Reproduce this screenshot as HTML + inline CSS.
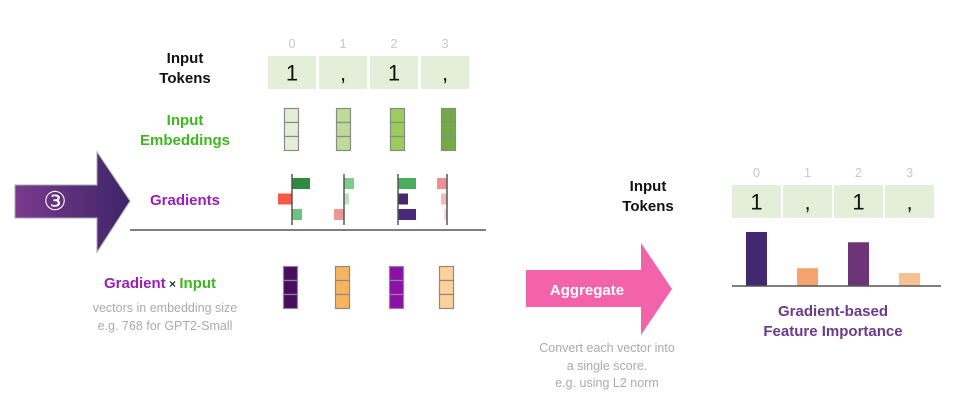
<!DOCTYPE html>
<html><head><meta charset="utf-8"><style>
html,body{margin:0;padding:0;background:#fff;}
svg{display:block;font-family:"Liberation Sans",Arial,sans-serif;}
</style></head><body>
<svg width="961" height="412" viewBox="0 0 961 412">
<defs>
<linearGradient id="pg" x1="0" x2="1" y1="0" y2="0"><stop offset="0" stop-color="#7a3a8e"/><stop offset="1" stop-color="#3e2468"/></linearGradient>
</defs>
<g>
<polygon points="15,185 97,185 97,152 130,201 97,252 97,218 15,218" fill="url(#pg)" stroke="#aaa" stroke-width="1"/>
<text x="55" y="210" font-size="26" fill="#fff" text-anchor="middle">③</text>
</g>
<g font-weight="bold" font-size="15" text-anchor="middle" fill="#111">
<text x="185" y="63">Input</text><text x="185" y="83">Tokens</text></g>
<g id="tok1"></g>
<g font-weight="bold" font-size="15" text-anchor="middle" fill="#3cb81e">
<text x="185" y="125">Input</text><text x="185" y="145">Embeddings</text></g>
<g id="emb"></g>
<text x="185" y="205" font-weight="bold" font-size="15" text-anchor="middle" fill="#9a1fb5">Gradients</text>
<g id="grad"></g>
<line x1="130" y1="230" x2="486" y2="230" stroke="#555" stroke-width="1.5"/>
<text x="160" y="288" font-weight="bold" font-size="15" text-anchor="middle"><tspan fill="#9a1fb5">Gradient</tspan><tspan fill="#333" font-size="12"> × </tspan><tspan fill="#3cb81e">Input</tspan></text>
<g font-size="12.5" text-anchor="middle" fill="#aaa">
<text x="165" y="312">vectors in embedding size</text><text x="165" y="330">e.g. 768 for GPT2-Small</text></g>
<g id="gxi"></g>
<g>
<polygon points="526,270 641,270 641,243 672,289 641,335 641,307 526,307" fill="#f263ac"/>
<text x="587" y="295" font-weight="bold" font-size="15" fill="#fff" text-anchor="middle">Aggregate</text></g>
<g font-size="12.5" text-anchor="middle" fill="#aaa">
<text x="607" y="352">Convert each vector into</text><text x="607" y="370">a single score.</text><text x="607" y="387">e.g. using L2 norm</text></g>
<g font-weight="bold" font-size="15" text-anchor="middle" fill="#111">
<text x="648" y="191">Input</text><text x="648" y="211">Tokens</text></g>
<g id="tok2"></g>
<g id="imp"></g>
<line x1="732" y1="286" x2="941" y2="286" stroke="#555" stroke-width="1.5"/>
<g font-weight="bold" font-size="15" text-anchor="middle" fill="#6b3a8a">
<text x="833" y="316">Gradient-based</text><text x="833" y="336">Feature Importance</text></g>
</svg>
<script>
const tokens=["1",",","1",","];
const indices=["0","1","2","3"];
const importance=[1.0,0.33,0.81,0.24];
const impColors=["#42286e","#f4a56f","#6e3478","#f6c193"];
const embColors=["#e2efd6","#bcdc98","#9acd5a","#72ab45"];
const gxiColors=["#4a0c5e","#f9b55e","#8b0fa8","#fdd29a"];
const grad0=[0.9,-0.7,0.5];
const grad1=[0.5,0.25,-0.5];
const grad2=[0.9,0.5,0.9];
const grad3=[-0.5,-0.3,-0.15];
const gradColors=[["#2e8b3e","#f25a45","#6cc47c"],["#7ccd8c","#b4e3bd","#ee9595"],["#4cae5c","#47286e","#4a2a78"],["#ee9090","#f4b8b8","#f9d8d8"]];
const NS="http://www.w3.org/2000/svg";
function mk(p,t,a){const e=document.createElementNS(NS,t);for(const k in a)e.setAttribute(k,a[k]);p.appendChild(e);return e;}
function tokRow(g,x0,y0,w,h,step){
 tokens.forEach((t,i)=>{
  const r=mk(g,'rect',{x:x0+i*step,y:y0,width:w,height:h,fill:'#e3efd8'});
  
  
  const tx=mk(g,'text',{x:x0+i*step+w/2,y:y0+h/2+8,'font-size':22,'text-anchor':'middle',fill:'#111'});tx.textContent=t;
  
  
  const ix=mk(g,'text',{x:x0+i*step+w/2,y:y0-8,'font-size':13,'text-anchor':'middle',fill:'#c8c8c8'});ix.textContent=indices[i];
  
  
 });
}
tokRow(document.getElementById('tok1'),268,56,48,33,51);
tokRow(document.getElementById('tok2'),732,185,49,33,51);
function vecs(g,xs,y0,cols){
 xs.forEach((x,i)=>{for(let k=0;k<3;k++){
  const r=mk(g,'rect',{x:x,y:y0+k*14,width:14,height:14,fill:cols[i],stroke:'#8a8a8a','stroke-width':1.2});
  
  
 }});
}
vecs(document.getElementById('emb'),[284.5,336.5,390.5,441.5],108.5,embColors);
vecs(document.getElementById('gxi'),[283.5,335.5,389.5,439.5],266.5,gxiColors);
const gg=document.getElementById('grad');
const gradAll=[grad0,grad1,grad2,grad3];
const axX=[292,344,398,447];
const gScale=20;
gradAll.forEach((vals,i)=>{
 vals.forEach((v,k)=>{
  const w=Math.abs(v)*gScale;const x=v>=0?axX[i]:axX[i]-w;
  const r=mk(gg,'rect',{x:x,y:178+k*15.5,width:w,height:11,fill:gradColors[i][k]});
  
  
 });
 const l=mk(gg,'line',{x1:axX[i],y1:174,x2:axX[i],y2:225,stroke:'#555','stroke-width':1.5});
 
 
});
const ig=document.getElementById('imp');
const base=286,maxH=54;
function yS(v){return base-v*maxH;}
importance.forEach((v,i)=>{
 const r=mk(ig,'rect',{x:746+i*51,y:yS(v),width:21,height:base-yS(v),fill:impColors[i]});
 
 
});
</script>
</body></html>
